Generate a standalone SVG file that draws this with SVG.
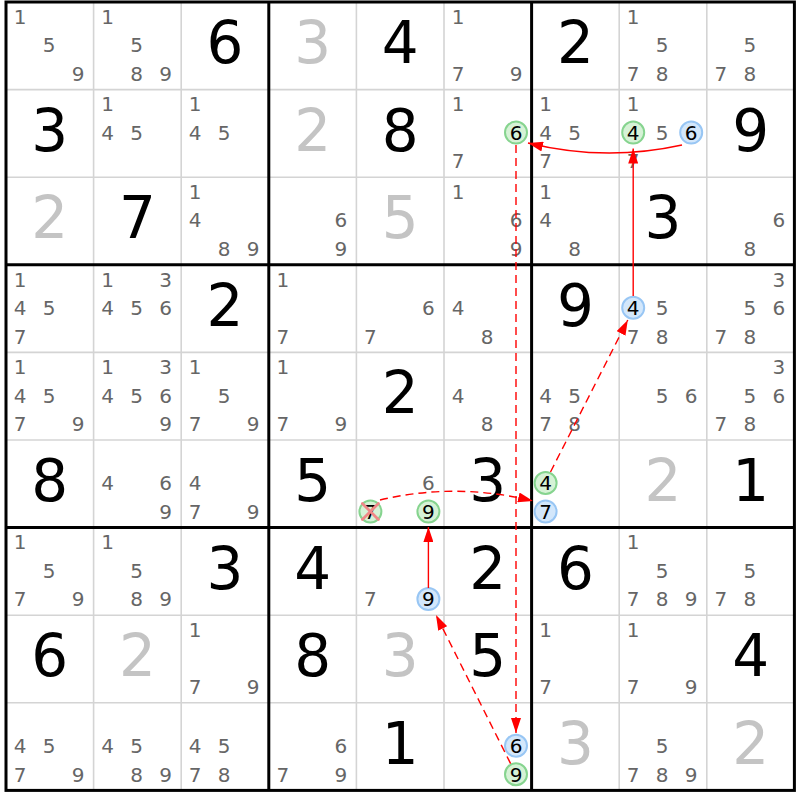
<svg xmlns="http://www.w3.org/2000/svg" width="800" height="800" viewBox="0 0 800 800">
<style>
text{font-family:"DejaVu Sans","Verdana",sans-serif;text-anchor:middle}
.c{font-size:20px;fill:#666}
.h{font-size:20px;fill:#000}
.b{font-size:58px;fill:#000}
.g{font-size:58px;fill:#c4c4c4}
.thin{stroke:#d4d4d4;stroke-width:1.6}
.thick{stroke:#000;stroke-width:3}
.cg{fill:#d6f2d6;stroke:#86d48f;stroke-width:2}
.cb{fill:#d3e7fb;stroke:#98c6f4;stroke-width:2}
.x{stroke:#f08888;stroke-width:2.8;stroke-linecap:round}
.arr{fill:none;stroke:#f00;stroke-width:1.4}
.dash{stroke-dasharray:8 5}
</style>
<defs>
<marker id="ah" viewBox="0 0 15 10" refX="15" refY="5" markerWidth="15" markerHeight="10" markerUnits="userSpaceOnUse" orient="auto">
<path d="M0,0 L15,5 L0,10 Z" fill="#f00"/>
</marker>
</defs>
<rect x="0" y="0" width="800" height="800" fill="#fff"/>
<g id="grid">
<g class="thin">
<line x1="93.6" y1="2" x2="93.6" y2="790.4"/><line x1="181.2" y1="2" x2="181.2" y2="790.4"/>
<line x1="356.4" y1="2" x2="356.4" y2="790.4"/><line x1="444" y1="2" x2="444" y2="790.4"/>
<line x1="619.2" y1="2" x2="619.2" y2="790.4"/><line x1="706.8" y1="2" x2="706.8" y2="790.4"/>
<line x1="6" y1="89.6" x2="794.4" y2="89.6"/><line x1="6" y1="177.2" x2="794.4" y2="177.2"/>
<line x1="6" y1="352.4" x2="794.4" y2="352.4"/><line x1="6" y1="440" x2="794.4" y2="440"/>
<line x1="6" y1="615.2" x2="794.4" y2="615.2"/><line x1="6" y1="702.8" x2="794.4" y2="702.8"/>
</g>
<g class="thick">
<line x1="268.8" y1="2" x2="268.8" y2="790.4"/><line x1="531.6" y1="2" x2="531.6" y2="790.4"/>
<line x1="6" y1="264.8" x2="794.4" y2="264.8"/><line x1="6" y1="527.6" x2="794.4" y2="527.6"/>
<rect x="6" y="2" width="788.4" height="788.4" fill="none"/>
</g>
</g>
<g id="cells">
<!-- row 0 -->
<g id="r0c0" transform="translate(6,2)"><text class="c" x="14" y="21.8">1</text><text class="c" x="43" y="50.3">5</text><text class="c" x="72" y="78.8">9</text></g>
<g id="r0c1" transform="translate(93.6,2)"><text class="c" x="14" y="21.8">1</text><text class="c" x="43" y="50.3">5</text><text class="c" x="43" y="78.8">8</text><text class="c" x="72" y="78.8">9</text></g>
<g id="r0c2" transform="translate(181.2,2)"><text class="b" x="43.8" y="61">6</text></g>
<g id="r0c3" transform="translate(268.8,2)"><text class="g" x="43.8" y="61">3</text></g>
<g id="r0c4" transform="translate(356.4,2)"><text class="b" x="43.8" y="61">4</text></g>
<g id="r0c5" transform="translate(444,2)"><text class="c" x="14" y="21.8">1</text><text class="c" x="14" y="78.8">7</text><text class="c" x="72" y="78.8">9</text></g>
<g id="r0c6" transform="translate(531.6,2)"><text class="b" x="43.8" y="61">2</text></g>
<g id="r0c7" transform="translate(619.2,2)"><text class="c" x="14" y="21.8">1</text><text class="c" x="43" y="50.3">5</text><text class="c" x="14" y="78.8">7</text><text class="c" x="43" y="78.8">8</text></g>
<g id="r0c8" transform="translate(706.8,2)"><text class="c" x="43" y="50.3">5</text><text class="c" x="14" y="78.8">7</text><text class="c" x="43" y="78.8">8</text></g>
<!-- row 1 -->
<g id="r1c0" transform="translate(6,89.6)"><text class="b" x="43.8" y="61">3</text></g>
<g id="r1c1" transform="translate(93.6,89.6)"><text class="c" x="14" y="21.8">1</text><text class="c" x="14" y="50.3">4</text><text class="c" x="43" y="50.3">5</text></g>
<g id="r1c2" transform="translate(181.2,89.6)"><text class="c" x="14" y="21.8">1</text><text class="c" x="14" y="50.3">4</text><text class="c" x="43" y="50.3">5</text></g>
<g id="r1c3" transform="translate(268.8,89.6)"><text class="g" x="43.8" y="61">2</text></g>
<g id="r1c4" transform="translate(356.4,89.6)"><text class="b" x="43.8" y="61">8</text></g>
<g id="r1c5" transform="translate(444,89.6)"><text class="c" x="14" y="21.8">1</text><circle class="cg" cx="72" cy="43" r="11"/><text class="h" x="72" y="50.3">6</text><text class="c" x="14" y="78.8">7</text></g>
<g id="r1c6" transform="translate(531.6,89.6)"><text class="c" x="14" y="21.8">1</text><text class="c" x="14" y="50.3">4</text><text class="c" x="43" y="50.3">5</text><text class="c" x="14" y="78.8">7</text></g>
<g id="r1c7" transform="translate(619.2,89.6)"><text class="c" x="14" y="21.8">1</text><circle class="cg" cx="14" cy="43" r="11"/><text class="h" x="14" y="50.3">4</text><text class="c" x="43" y="50.3">5</text><circle class="cb" cx="72" cy="43" r="11"/><text class="h" x="72" y="50.3">6</text><text class="c" x="14" y="78.8">7</text></g>
<g id="r1c8" transform="translate(706.8,89.6)"><text class="b" x="43.8" y="61">9</text></g>
<!-- row 2 -->
<g id="r2c0" transform="translate(6,177.2)"><text class="g" x="43.8" y="61">2</text></g>
<g id="r2c1" transform="translate(93.6,177.2)"><text class="b" x="43.8" y="61">7</text></g>
<g id="r2c2" transform="translate(181.2,177.2)"><text class="c" x="14" y="21.8">1</text><text class="c" x="14" y="50.3">4</text><text class="c" x="43" y="78.8">8</text><text class="c" x="72" y="78.8">9</text></g>
<g id="r2c3" transform="translate(268.8,177.2)"><text class="c" x="72" y="50.3">6</text><text class="c" x="72" y="78.8">9</text></g>
<g id="r2c4" transform="translate(356.4,177.2)"><text class="g" x="43.8" y="61">5</text></g>
<g id="r2c5" transform="translate(444,177.2)"><text class="c" x="14" y="21.8">1</text><text class="c" x="72" y="50.3">6</text><text class="c" x="72" y="78.8">9</text></g>
<g id="r2c6" transform="translate(531.6,177.2)"><text class="c" x="14" y="21.8">1</text><text class="c" x="14" y="50.3">4</text><text class="c" x="43" y="78.8">8</text></g>
<g id="r2c7" transform="translate(619.2,177.2)"><text class="b" x="43.8" y="61">3</text></g>
<g id="r2c8" transform="translate(706.8,177.2)"><text class="c" x="72" y="50.3">6</text><text class="c" x="43" y="78.8">8</text></g>
<!-- row 3 -->
<g id="r3c0" transform="translate(6,264.8)"><text class="c" x="14" y="21.8">1</text><text class="c" x="14" y="50.3">4</text><text class="c" x="43" y="50.3">5</text><text class="c" x="14" y="78.8">7</text></g>
<g id="r3c1" transform="translate(93.6,264.8)"><text class="c" x="14" y="21.8">1</text><text class="c" x="72" y="21.8">3</text><text class="c" x="14" y="50.3">4</text><text class="c" x="43" y="50.3">5</text><text class="c" x="72" y="50.3">6</text></g>
<g id="r3c2" transform="translate(181.2,264.8)"><text class="b" x="43.8" y="61">2</text></g>
<g id="r3c3" transform="translate(268.8,264.8)"><text class="c" x="14" y="21.8">1</text><text class="c" x="14" y="78.8">7</text></g>
<g id="r3c4" transform="translate(356.4,264.8)"><text class="c" x="72" y="50.3">6</text><text class="c" x="14" y="78.8">7</text></g>
<g id="r3c5" transform="translate(444,264.8)"><text class="c" x="14" y="50.3">4</text><text class="c" x="43" y="78.8">8</text></g>
<g id="r3c6" transform="translate(531.6,264.8)"><text class="b" x="43.8" y="61">9</text></g>
<g id="r3c7" transform="translate(619.2,264.8)"><circle class="cb" cx="14" cy="43" r="11"/><text class="h" x="14" y="50.3">4</text><text class="c" x="43" y="50.3">5</text><text class="c" x="14" y="78.8">7</text><text class="c" x="43" y="78.8">8</text></g>
<g id="r3c8" transform="translate(706.8,264.8)"><text class="c" x="72" y="21.8">3</text><text class="c" x="43" y="50.3">5</text><text class="c" x="72" y="50.3">6</text><text class="c" x="14" y="78.8">7</text><text class="c" x="43" y="78.8">8</text></g>
<!-- row 4 -->
<g id="r4c0" transform="translate(6,352.4)"><text class="c" x="14" y="21.8">1</text><text class="c" x="14" y="50.3">4</text><text class="c" x="43" y="50.3">5</text><text class="c" x="14" y="78.8">7</text><text class="c" x="72" y="78.8">9</text></g>
<g id="r4c1" transform="translate(93.6,352.4)"><text class="c" x="14" y="21.8">1</text><text class="c" x="72" y="21.8">3</text><text class="c" x="14" y="50.3">4</text><text class="c" x="43" y="50.3">5</text><text class="c" x="72" y="50.3">6</text><text class="c" x="72" y="78.8">9</text></g>
<g id="r4c2" transform="translate(181.2,352.4)"><text class="c" x="14" y="21.8">1</text><text class="c" x="43" y="50.3">5</text><text class="c" x="14" y="78.8">7</text><text class="c" x="72" y="78.8">9</text></g>
<g id="r4c3" transform="translate(268.8,352.4)"><text class="c" x="14" y="21.8">1</text><text class="c" x="14" y="78.8">7</text><text class="c" x="72" y="78.8">9</text></g>
<g id="r4c4" transform="translate(356.4,352.4)"><text class="b" x="43.8" y="61">2</text></g>
<g id="r4c5" transform="translate(444,352.4)"><text class="c" x="14" y="50.3">4</text><text class="c" x="43" y="78.8">8</text></g>
<g id="r4c6" transform="translate(531.6,352.4)"><text class="c" x="14" y="50.3">4</text><text class="c" x="43" y="50.3">5</text><text class="c" x="14" y="78.8">7</text><text class="c" x="43" y="78.8">8</text></g>
<g id="r4c7" transform="translate(619.2,352.4)"><text class="c" x="43" y="50.3">5</text><text class="c" x="72" y="50.3">6</text></g>
<g id="r4c8" transform="translate(706.8,352.4)"><text class="c" x="72" y="21.8">3</text><text class="c" x="43" y="50.3">5</text><text class="c" x="72" y="50.3">6</text><text class="c" x="14" y="78.8">7</text><text class="c" x="43" y="78.8">8</text></g>
<!-- row 5 -->
<g id="r5c0" transform="translate(6,440)"><text class="b" x="43.8" y="61">8</text></g>
<g id="r5c1" transform="translate(93.6,440)"><text class="c" x="14" y="50.3">4</text><text class="c" x="72" y="50.3">6</text><text class="c" x="72" y="78.8">9</text></g>
<g id="r5c2" transform="translate(181.2,440)"><text class="c" x="14" y="50.3">4</text><text class="c" x="14" y="78.8">7</text><text class="c" x="72" y="78.8">9</text></g>
<g id="r5c3" transform="translate(268.8,440)"><text class="b" x="43.8" y="61">5</text></g>
<g id="r5c4" transform="translate(356.4,440)"><text class="c" x="72" y="50.3">6</text><circle class="cg" cx="14" cy="71.5" r="11"/><text class="h" x="14" y="78.8">7</text><line class="x" x1="6" y1="63.5" x2="22" y2="79.5"/><line class="x" x1="22" y1="63.5" x2="6" y2="79.5"/><circle class="cg" cx="72" cy="71.5" r="11"/><text class="h" x="72" y="78.8">9</text></g>
<g id="r5c5" transform="translate(444,440)"><text class="b" x="43.8" y="61">3</text></g>
<g id="r5c6" transform="translate(531.6,440)"><circle class="cg" cx="14" cy="43" r="11"/><text class="h" x="14" y="50.3">4</text><circle class="cb" cx="14" cy="71.5" r="11"/><text class="h" x="14" y="78.8">7</text></g>
<g id="r5c7" transform="translate(619.2,440)"><text class="g" x="43.8" y="61">2</text></g>
<g id="r5c8" transform="translate(706.8,440)"><text class="b" x="43.8" y="61">1</text></g>
<!-- row 6 -->
<g id="r6c0" transform="translate(6,527.6)"><text class="c" x="14" y="21.8">1</text><text class="c" x="43" y="50.3">5</text><text class="c" x="14" y="78.8">7</text><text class="c" x="72" y="78.8">9</text></g>
<g id="r6c1" transform="translate(93.6,527.6)"><text class="c" x="14" y="21.8">1</text><text class="c" x="43" y="50.3">5</text><text class="c" x="43" y="78.8">8</text><text class="c" x="72" y="78.8">9</text></g>
<g id="r6c2" transform="translate(181.2,527.6)"><text class="b" x="43.8" y="61">3</text></g>
<g id="r6c3" transform="translate(268.8,527.6)"><text class="b" x="43.8" y="61">4</text></g>
<g id="r6c4" transform="translate(356.4,527.6)"><text class="c" x="14" y="78.8">7</text><circle class="cb" cx="72" cy="71.5" r="11"/><text class="h" x="72" y="78.8">9</text></g>
<g id="r6c5" transform="translate(444,527.6)"><text class="b" x="43.8" y="61">2</text></g>
<g id="r6c6" transform="translate(531.6,527.6)"><text class="b" x="43.8" y="61">6</text></g>
<g id="r6c7" transform="translate(619.2,527.6)"><text class="c" x="14" y="21.8">1</text><text class="c" x="43" y="50.3">5</text><text class="c" x="14" y="78.8">7</text><text class="c" x="43" y="78.8">8</text><text class="c" x="72" y="78.8">9</text></g>
<g id="r6c8" transform="translate(706.8,527.6)"><text class="c" x="43" y="50.3">5</text><text class="c" x="14" y="78.8">7</text><text class="c" x="43" y="78.8">8</text></g>
<!-- row 7 -->
<g id="r7c0" transform="translate(6,615.2)"><text class="b" x="43.8" y="61">6</text></g>
<g id="r7c1" transform="translate(93.6,615.2)"><text class="g" x="43.8" y="61">2</text></g>
<g id="r7c2" transform="translate(181.2,615.2)"><text class="c" x="14" y="21.8">1</text><text class="c" x="14" y="78.8">7</text><text class="c" x="72" y="78.8">9</text></g>
<g id="r7c3" transform="translate(268.8,615.2)"><text class="b" x="43.8" y="61">8</text></g>
<g id="r7c4" transform="translate(356.4,615.2)"><text class="g" x="43.8" y="61">3</text></g>
<g id="r7c5" transform="translate(444,615.2)"><text class="b" x="43.8" y="61">5</text></g>
<g id="r7c6" transform="translate(531.6,615.2)"><text class="c" x="14" y="21.8">1</text><text class="c" x="14" y="78.8">7</text></g>
<g id="r7c7" transform="translate(619.2,615.2)"><text class="c" x="14" y="21.8">1</text><text class="c" x="14" y="78.8">7</text><text class="c" x="72" y="78.8">9</text></g>
<g id="r7c8" transform="translate(706.8,615.2)"><text class="b" x="43.8" y="61">4</text></g>
<!-- row 8 -->
<g id="r8c0" transform="translate(6,702.8)"><text class="c" x="14" y="50.3">4</text><text class="c" x="43" y="50.3">5</text><text class="c" x="14" y="78.8">7</text><text class="c" x="72" y="78.8">9</text></g>
<g id="r8c1" transform="translate(93.6,702.8)"><text class="c" x="14" y="50.3">4</text><text class="c" x="43" y="50.3">5</text><text class="c" x="43" y="78.8">8</text><text class="c" x="72" y="78.8">9</text></g>
<g id="r8c2" transform="translate(181.2,702.8)"><text class="c" x="14" y="50.3">4</text><text class="c" x="43" y="50.3">5</text><text class="c" x="14" y="78.8">7</text><text class="c" x="43" y="78.8">8</text></g>
<g id="r8c3" transform="translate(268.8,702.8)"><text class="c" x="72" y="50.3">6</text><text class="c" x="14" y="78.8">7</text><text class="c" x="72" y="78.8">9</text></g>
<g id="r8c4" transform="translate(356.4,702.8)"><text class="b" x="43.8" y="61">1</text></g>
<g id="r8c5" transform="translate(444,702.8)"><circle class="cb" cx="72" cy="43" r="11"/><text class="h" x="72" y="50.3">6</text><circle class="cg" cx="72" cy="71.5" r="11"/><text class="h" x="72" y="78.8">9</text></g>
<g id="r8c6" transform="translate(531.6,702.8)"><text class="g" x="43.8" y="61">3</text></g>
<g id="r8c7" transform="translate(619.2,702.8)"><text class="c" x="43" y="50.3">5</text><text class="c" x="14" y="78.8">7</text><text class="c" x="43" y="78.8">8</text><text class="c" x="72" y="78.8">9</text></g>
<g id="r8c8" transform="translate(706.8,702.8)"><text class="g" x="43.8" y="61">2</text></g>
</g>
<g id="connectors">
<path class="arr" d="M682,145 Q605,162 528,143" marker-end="url(#ah)"/>
<path class="arr" d="M633.2,296 L633.2,148.5" marker-end="url(#ah)"/>
<path class="arr dash" d="M516,145 L516,733" marker-end="url(#ah)"/>
<path class="arr dash" d="M510.6,763.6 L436,615" marker-end="url(#ah)"/>
<path class="arr" d="M428.4,588 L428.4,527" marker-end="url(#ah)"/>
<path class="arr dash" d="M380,500 Q456,482 533,501" marker-end="url(#ah)"/>
<path class="arr dash" d="M550.5,472 L627.8,320" marker-end="url(#ah)"/>
</g>
</svg>
